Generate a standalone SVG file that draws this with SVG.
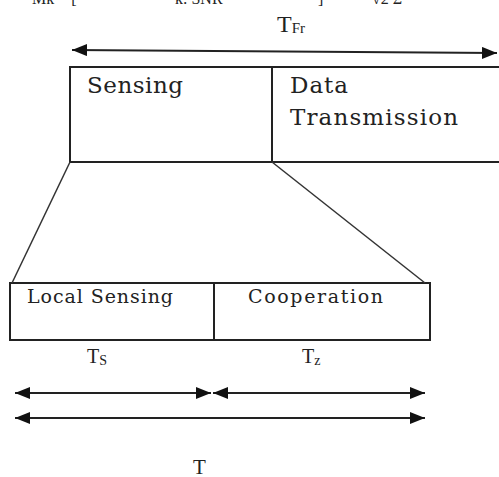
<svg xmlns="http://www.w3.org/2000/svg" width="499" height="477" viewBox="0 0 499 477">
<style>
.t{font-family:"Liberation Serif","Times New Roman",serif;fill:#222}
.b{font-family:"DejaVu Serif","Liberation Serif",serif;fill:#222}
.box{fill:#fff;stroke:#222;stroke-width:2}
.ln{stroke:#222;stroke-width:2;fill:none}
.dl{stroke:#333;stroke-width:1.5;fill:none}
</style>
<defs>
<marker id="ah" viewBox="0 0 15 12" refX="15" refY="6" markerWidth="15" markerHeight="12" markerUnits="userSpaceOnUse" orient="auto-start-reverse">
<path d="M0,0 L15,6 L0,12 z" fill="#111"/>
</marker>
</defs>
<rect width="499" height="477" fill="#fff"/>
<g id="clipped-formula">
<text class="t" font-size="16" y="4"><tspan x="32">Mk = [</tspan><tspan x="175">k: SNR</tspan><tspan x="318">]</tspan><tspan x="372">√2 Σ</tspan></text>
</g>
<g id="label-TFr">
<text class="t" x="277" y="32" font-size="24">T<tspan font-size="15" dy="1">Fr</tspan></text>
</g>
<g id="node-sensing">
<rect class="box" x="70" y="67" width="202" height="95"/>
<text class="b" x="87" y="93" font-size="23" textLength="96">Sensing</text>
</g>
<g id="node-data-transmission">
<path class="ln" d="M272,67 H500 M272,162 H500"/>
<text class="b" x="290" y="93" font-size="23" textLength="58">Data</text>
<text class="b" x="290" y="125" font-size="23" textLength="168">Transmission</text>
</g>
<g id="node-local-sensing">
<rect class="box" x="10" y="283" width="204" height="57"/>
<text class="b" x="27" y="303" font-size="19" textLength="146">Local Sensing</text>
</g>
<g id="node-cooperation">
<rect class="box" x="214" y="283" width="216" height="57"/>
<text class="b" x="248" y="303" font-size="19" textLength="135">Cooperation</text>
</g>
<g id="label-Ts">
<text class="t" x="87" y="363" font-size="20">T<tspan font-size="14" dy="2">S</tspan></text>
</g>
<g id="label-Tz">
<text class="t" x="302" y="363" font-size="20">T<tspan font-size="14" dy="2">z</tspan></text>
</g>
<g id="label-T">
<text class="t" x="193" y="474" font-size="21">T</text>
</g>
<g id="connectors">
<line class="ln" x1="72" y1="50" x2="497" y2="53" marker-start="url(#ah)" marker-end="url(#ah)"/>
<line class="dl" x1="70" y1="162" x2="12" y2="283"/>
<line class="dl" x1="272" y1="162" x2="425" y2="283"/>
<line class="ln" x1="15" y1="393" x2="211" y2="393" marker-start="url(#ah)" marker-end="url(#ah)"/>
<line class="ln" x1="213" y1="393" x2="425" y2="393" marker-start="url(#ah)" marker-end="url(#ah)"/>
<line class="ln" x1="15" y1="418" x2="425" y2="418" marker-start="url(#ah)" marker-end="url(#ah)"/>
</g>
</svg>
